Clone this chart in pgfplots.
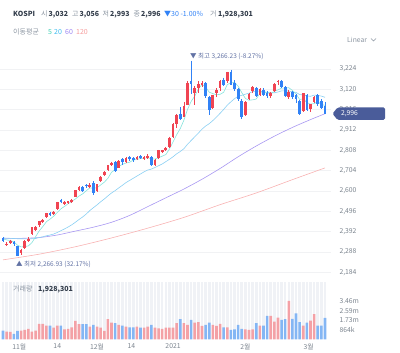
\documentclass[border=0pt]{standalone}
\usepackage{fontspec}
\setmainfont{Noto Sans CJK KR}
\usepackage{pgfplots}
\pgfplotsset{compat=1.18}
\usepackage{pgfplotstable}
\definecolor{upC}{HTML}{F04452}
\definecolor{dnC}{HTML}{3182F6}
\definecolor{vUp}{HTML}{F4A1A6}
\definecolor{vDn}{HTML}{84B6F4}
\definecolor{ma5C}{HTML}{86E3DC}
\definecolor{ma20C}{HTML}{8ACFF3}
\definecolor{ma60C}{HTML}{A897F2}
\definecolor{ma120C}{HTML}{F8B2B2}
\definecolor{gridC}{HTML}{F1F2F4}
\definecolor{stripeC}{HTML}{F0F2F6}
\definecolor{tickC}{HTML}{7B848E}
\definecolor{grayT}{HTML}{8B95A1}
\definecolor{darkT}{HTML}{333D4B}
\definecolor{annC}{HTML}{6272A4}
\definecolor{tagC}{HTML}{4A5C9A}
\definecolor{l5}{HTML}{3FCFB4}
\definecolor{l20}{HTML}{3DBBF0}
\definecolor{l60}{HTML}{9C86F2}
\definecolor{l120}{HTML}{F59C9C}

\pgfplotstableread{
i O H L C
1 2325 2340 2318 2331
2 2336 2352 2330 2345
5 2281 2305 2275 2300
6 2310 2347 2305 2343
7 2345 2363 2340 2357
8 2378 2414 2375 2414
9 2400 2421 2398 2417
10 2425 2448 2418 2447
11 2440 2458 2435 2453
12 2466 2490 2460 2486
14 2480 2497 2475 2494
15 2510 2545 2505 2543
17 2535 2550 2528 2546
18 2540 2550 2535 2547
19 2545 2560 2540 2554
20 2570 2605 2568 2603
21 2605 2625 2600 2618
24 2620 2640 2615 2633
26 2600 2635 2595 2634
27 2650 2675 2645 2673
28 2680 2700 2675 2696
29 2705 2732 2700 2731
30 2735 2750 2728 2745
32 2720 2758 2715 2755
34 2750 2775 2745 2770
37 2762 2778 2758 2772
39 2765 2778 2760 2772
40 2770 2788 2765 2779
42 2735 2765 2728 2760
43 2770 2810 2765 2807
44 2800 2812 2795 2809
45 2810 2825 2805 2821
46 2825 2878 2820 2873
47 2874 2946 2869 2944
48 2943 2994 2920 2991
50 2980 3055 2980 3032
51 3040 3161 3040 3152
53 3100 3135 3040 3126
54 3128 3160 3100 3148
55 3140 3160 3130 3150
58 3025 3093 3020 3093
59 3100 3125 3080 3115
60 3125 3165 3110 3161
62 3160 3210 3150 3209
67 2990 3060 2985 3057
68 3070 3100 3065 3097
69 3110 3135 3100 3130
71 3090 3125 3085 3121
74 3085 3105 3075 3101
75 3110 3150 3105 3147
76 3155 3168 3140 3163
79 3080 3115 3070 3108
83 3010 3100 3005 3100
85 3020 3045 3005 3043
86 3055 3085 3050 3083
}\upT

\pgfplotstableread{
i O H L C
0 2358 2365 2338 2344
3 2340 2345 2320 2327
4 2318 2321 2267 2267
13 2490 2495 2470 2476
16 2555 2560 2537 2544
22 2620 2625 2595 2602
23 2630 2635 2615 2626
25 2640 2650 2580 2591
31 2750 2752 2695 2701
33 2765 2768 2735 2746
35 2775 2780 2755 2762
36 2770 2772 2750 2757
38 2780 2782 2762 2770
41 2775 2778 2730 2734
49 2993 3028 2962 2968
52 3162 3266 3096 3148
56 3150 3155 3075 3086
57 3080 3085 2990 3014
61 3165 3180 3135 3141
63 3210 3220 3140 3140
64 3150 3165 3110 3123
65 3120 3125 3060 3069
66 3060 3070 2970 2976
70 3125 3130 3080 3088
72 3115 3125 3085 3091
73 3100 3110 3075 3085
77 3160 3165 3125 3134
78 3130 3135 3080 3087
80 3105 3110 3070 3080
81 3090 3095 3050 3070
82 3060 3065 2990 2995
84 3090 3095 3010 3013
87 3090 3095 3035 3044
88 3060 3070 3020 3026
89 3032 3056 2993 2996
}\dnT

\pgfplotstableread{
i v
1 0.69
2 0.66
5 0.78
6 0.84
7 0.93
8 0.69
9 0.78
10 1.39
11 1.39
12 1.23
14 1.05
15 1.23
17 0.90
18 0.93
19 1.08
20 1.66
21 1.36
24 1.14
26 1.14
27 1.05
28 0.75
29 1.81
30 1.51
32 1.30
34 1.14
37 1.14
39 1.05
40 1.14
42 1.05
43 0.99
44 0.93
45 1.05
46 1.05
47 1.05
48 1.45
50 1.45
51 1.30
53 1.51
54 1.54
55 1.20
58 1.30
59 1.20
60 1.39
62 1.08
67 0.90
68 0.84
69 0.90
71 1.23
74 2.11
75 1.60
76 1.96
79 3.46
83 1.23
85 1.69
86 2.26
}\vUpT

\pgfplotstableread{
i v
0 0.78
3 0.48
4 0.75
13 1.23
16 1.23
22 1.36
23 1.36
25 1.30
31 1.45
33 1.23
35 1.08
36 1.08
38 1.05
41 1.30
49 1.81
52 1.75
56 1.30
57 1.51
61 1.08
63 0.84
64 0.90
65 1.30
66 0.93
70 1.45
72 1.23
73 2.11
77 1.75
78 1.81
80 1.84
81 2.35
82 1.54
84 1.50
87 1.23
88 1.23
89 1.93
}\vDnT

\newcommand{\fs}{\fontsize{7}{8.5}\selectfont}
\newcommand{\ts}{\fontsize{6.8}{8}\selectfont}

\begin{document}
\begin{tikzpicture}[x=1pt,y=1pt,font=\fs]
\useasboundingbox (0,0) rectangle (400,353);

% header
\node[anchor=base west,inner sep=0,text=darkT] at (13,336) {\textbf{KOSPI}};
\node[anchor=base west,inner sep=0,text=grayT] at (41,336) {시};
\node[anchor=base west,inner sep=0,text=darkT] at (48.5,336) {\textbf{3,032}};
\node[anchor=base west,inner sep=0,text=grayT] at (72,336) {고};
\node[anchor=base west,inner sep=0,text=darkT] at (79.5,336) {\textbf{3,056}};
\node[anchor=base west,inner sep=0,text=grayT] at (102.5,336) {저};
\node[anchor=base west,inner sep=0,text=darkT] at (110,336) {\textbf{2,993}};
\node[anchor=base west,inner sep=0,text=grayT] at (133.5,336) {종};
\node[anchor=base west,inner sep=0,text=darkT] at (141,336) {\textbf{2,996}};
\node[anchor=base west,inner sep=0,text=dnC] at (164,336) {▼30 -1.00\%};
\node[anchor=base west,inner sep=0,text=grayT] at (210,336) {거};
\node[anchor=base west,inner sep=0,text=darkT] at (218,336) {\textbf{1,928,301}};

\node[anchor=base west,inner sep=0,text=grayT] at (13,318) {이동평균};
\node[anchor=base west,inner sep=0,text=l5] at (48,318) {5};
\node[anchor=base west,inner sep=0,text=l20] at (54,318) {20};
\node[anchor=base west,inner sep=0,text=l60] at (65,318) {60};
\node[anchor=base west,inner sep=0,text=l120] at (76,318) {120};

\node[anchor=base west,inner sep=0,text=grayT,font=\ts] at (347,310) {Linear};
\draw[grayT,line width=0.6pt] (371,314.5) -- (373.5,312) -- (376,314.5);

% main price axis
\begin{axis}[
  at={(0pt,73pt)}, anchor=south west, scale only axis,
  width=331pt, height=232pt,
  xmin=-0.83, xmax=90.66, ymin=2145, ymax=3331,
  axis line style={draw=none},
  xtick=\empty,
  ytick={2184,2288,2392,2496,2600,2704,2808,2912,3016,3120,3224},
  ymajorgrids, grid style={draw=gridC, line width=0.6pt},
  yticklabel pos=right, major tick length=0pt,
  yticklabel style={font=\ts, text=tickC, anchor=west, xshift=5pt},
  /pgf/number format/1000 sep={,},
  /pgf/number format/assume math mode=true,
  clip mode=individual,
]
\addplot[ma120C, line width=0.6pt, smooth] coordinates {(0,2248) (10,2277) (20,2315) (30,2360) (40,2410) (50,2465) (60,2530) (70,2590) (80,2658) (89,2718)};
\addplot[ma60C, line width=0.6pt, smooth] coordinates {(0,2358) (5,2358) (10,2362) (15,2375) (20,2395) (25,2415) (30,2440) (35,2475) (40,2520) (45,2565) (50,2610) (55,2660) (60,2715) (65,2775) (70,2830) (75,2880) (80,2925) (85,2965) (89,2995)};
\addplot[ma20C, line width=0.6pt] coordinates {(0,2360) (1,2359) (2,2358) (3,2357) (4,2356) (5,2356) (6,2355) (7,2355) (8,2356) (9,2357) (10,2362) (11,2366) (12,2371) (13,2375) (14,2380) (15,2388) (16,2397) (17,2406) (18,2416) (19,2427) (20,2440) (21,2454) (22,2467) (23,2482) (24,2500) (25,2515) (26,2529) (27,2545) (28,2559) (29,2575) (30,2590) (31,2602) (32,2616) (33,2629) (34,2643) (35,2654) (36,2665) (37,2676) (38,2687) (39,2698) (40,2707) (41,2712) (42,2720) (43,2729) (44,2738) (45,2750) (46,2762) (47,2775) (48,2790) (49,2802) (50,2816) (51,2839) (52,2858) (53,2877) (54,2896) (55,2916) (56,2932) (57,2944) (58,2960) (59,2978) (60,2997) (61,3017) (62,3039) (63,3056) (64,3072) (65,3084) (66,3089) (67,3095) (68,3100) (69,3108) (70,3111) (71,3110) (72,3107) (73,3105) (74,3102) (75,3102) (76,3106) (77,3112) (78,3112) (79,3111) (80,3107) (81,3104) (82,3093) (83,3091) (84,3086) (85,3084) (86,3090) (87,3089) (88,3085) (89,3079)};
\addplot[ma5C, line width=0.6pt] coordinates {(0,2355) (1,2350) (2,2347) (3,2340) (4,2323) (5,2314) (6,2316) (7,2319) (8,2336) (9,2366) (10,2396) (11,2418) (12,2443) (13,2456) (14,2471) (15,2490) (16,2509) (17,2521) (18,2535) (19,2547) (20,2559) (21,2574) (22,2585) (23,2601) (24,2616) (25,2614) (26,2617) (27,2631) (28,2645) (29,2665) (30,2696) (31,2709) (32,2726) (33,2736) (34,2743) (35,2747) (36,2758) (37,2761) (38,2766) (39,2767) (40,2770) (41,2765) (42,2763) (43,2770) (44,2778) (45,2786) (46,2814) (47,2851) (48,2888) (49,2919) (50,2962) (51,3017) (52,3058) (53,3085) (54,3121) (55,3145) (56,3132) (57,3105) (58,3098) (59,3092) (60,3094) (61,3105) (62,3144) (63,3153) (64,3155) (65,3136) (66,3103) (67,3073) (68,3064) (69,3066) (70,3070) (71,3099) (72,3105) (73,3103) (74,3097) (75,3109) (76,3117) (77,3126) (78,3126) (79,3128) (80,3114) (81,3096) (82,3068) (83,3071) (84,3052) (85,3044) (86,3047) (87,3057) (88,3042) (89,3038)};
% wicks
\addplot[draw=none, mark=none, forget plot,
  error bars/.cd, y dir=minus, y explicit, error mark=none,
  error bar style={draw=upC, line width=0.7pt}]
  table[x=i, y=H, y error minus expr=\thisrow{H}-\thisrow{L}] {\upT};
\addplot[draw=none, mark=none, forget plot,
  error bars/.cd, y dir=minus, y explicit, error mark=none,
  error bar style={draw=dnC, line width=0.7pt}]
  table[x=i, y=H, y error minus expr=\thisrow{H}-\thisrow{L}] {\dnT};
% bodies
\addplot[draw=none, mark=none, forget plot,
  error bars/.cd, y dir=minus, y explicit, error mark=none,
  error bar style={draw=upC, line width=2.7pt}]
  table[x=i, y=C, y error minus expr=\thisrow{C}-\thisrow{O}] {\upT};
\addplot[draw=none, mark=none, forget plot,
  error bars/.cd, y dir=minus, y explicit, error mark=none,
  error bar style={draw=dnC, line width=2.7pt}]
  table[x=i, y=O, y error minus expr=\thisrow{O}-\thisrow{C}] {\dnT};
% annotations
\node[anchor=base west, inner sep=0, text=annC, font=\fontsize{6.5}{8}\selectfont] at (axis cs:51.7,3266) [yshift=2pt] {▼ 최고 3,266.23 (-8.27\%)};
\node[anchor=base west, inner sep=0, text=annC, font=\fontsize{6.5}{8}\selectfont] at (axis cs:3.6,2267) [yshift=-10pt] {▲ 최저 2,266.93 (32.17\%)};
\end{axis}

% volume axis
\begin{axis}[
  at={(0pt,13.7pt)}, anchor=south west, scale only axis,
  width=331pt, height=57.3pt,
  xmin=-0.83, xmax=90.66, ymin=0, ymax=5.17,
  axis line style={draw=none},
  minor xtick={0,1,...,89},
  xminorgrids, minor grid style={draw=stripeC, line width=2.6pt},
  xtick={4.5,15,26,35.5,47,67,84.5},
  xticklabels={11월,14,12월,14,2021,2월,3월},
  xticklabel style={font=\ts, text=tickC, yshift=-1pt},
  ytick={0.864,1.73,2.59,3.46},
  yticklabels={864k,1.73m,2.59m,3.46m},
  yticklabel pos=right, major tick length=0pt, minor tick length=0pt,
  yticklabel style={font=\ts, text=tickC, anchor=west, xshift=5pt},
]
\addplot[ybar, bar width=2.6pt, bar shift=0pt, fill=vUp, draw=none] table[x=i,y=v] {\vUpT};
\addplot[ybar, bar width=2.6pt, bar shift=0pt, fill=vDn, draw=none] table[x=i,y=v] {\vDnT};
\end{axis}

\node[anchor=base west,inner sep=0,text=grayT] at (13,61) {거래량};
\node[anchor=base west,inner sep=0,text=darkT] at (38,61) {\textbf{1,928,301}};

% current price tag
\fill[tagC, rounded corners=1.5pt] (332.5,239.3) -- (337.5,245.5) -- (385,245.5) -- (385,233.1) -- (337.5,233.1) -- cycle;
\node[anchor=center, inner sep=0, text=white, font=\ts] at (349.5,239.3) {2,996};
\end{tikzpicture}
\end{document}
